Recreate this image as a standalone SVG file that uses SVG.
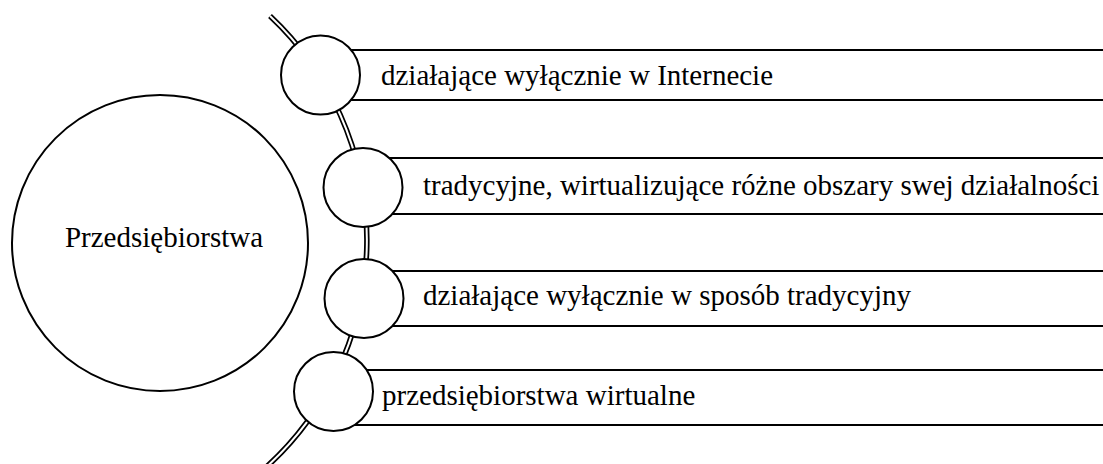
<svg xmlns="http://www.w3.org/2000/svg" width="1103" height="464" viewBox="0 0 1103 464">
<style>
.ln{fill:#fff;stroke:#000;stroke-width:2}
.t{font-family:"Liberation Serif","Times New Roman",serif;font-size:29px;fill:#000}
.arcO{fill:none;stroke:#000;stroke-width:5.5}
.arcI{fill:none;stroke:#fff;stroke-width:2}
</style>
<rect width="1103" height="464" fill="#fff"/>
<g id="connectors">
<path class="arcO" d="M 270 16 A 307 307 0 0 1 263 470"/>
<path class="arcI" d="M 270 16 A 307 307 0 0 1 263 470"/>
</g>
<g id="main">
<circle class="ln" cx="160" cy="243" r="148"/>
<text class="t" x="164" y="247" text-anchor="middle">Przedsiębiorstwa</text>
</g>
<g id="item1">
<rect class="ln" x="320" y="50" width="800" height="50"/>
<circle class="ln" cx="320.5" cy="75" r="39.5"/>
<text class="t" x="381" y="85">działające wyłącznie w Internecie</text>
</g>
<g id="item2">
<rect class="ln" x="363" y="158" width="800" height="56"/>
<circle class="ln" cx="363" cy="187.5" r="39.5"/>
<text class="t" x="423" y="195">tradycyjne, wirtualizujące różne obszary swej działalności</text>
</g>
<g id="item3">
<rect class="ln" x="364" y="271" width="800" height="55"/>
<circle class="ln" cx="364" cy="298.5" r="39.5"/>
<text class="t" x="423" y="305">działające wyłącznie w sposób tradycyjny</text>
</g>
<g id="item4">
<rect class="ln" x="333" y="370" width="800" height="55"/>
<circle class="ln" cx="333.5" cy="391.5" r="39.5"/>
<text class="t" x="382" y="405">przedsiębiorstwa wirtualne</text>
</g>
</svg>
